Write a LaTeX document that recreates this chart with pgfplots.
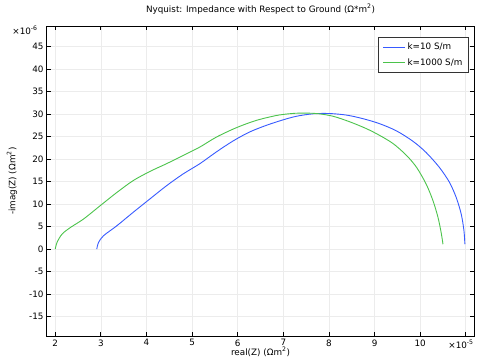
\documentclass[border=0pt]{standalone}
\usepackage{fontspec}
\setmainfont{DejaVu Sans}
\usepackage{pgfplots}
\pgfplotsset{compat=1.18}
\definecolor{cblue}{RGB}{55,90,255}
\definecolor{cgreen}{RGB}{75,195,75}
\begin{document}
\begin{tikzpicture}[x=1pt,y=1pt]
\path[use as bounding box] (0,0) rectangle (481,362);
\begin{axis}[
  at={(47pt,26pt)}, anchor=south west,
  scale only axis, width=427pt, height=309.5pt,
  xmin=1.82, xmax=11.18, ymin=-19.3, ymax=49.5,
  xtick={2,3,4,5,6,7,8,9,10,11},
  xticklabels={2,3,4,5,6,7,8,9,10,{}},
  ytick={-15,-10,...,45},
  /pgf/number format/assume math mode=true,
  tick label style={font=\fontsize{8.8}{10}\selectfont},
  tick align=inside, major tick length=4pt,
  tick style={black, line width=0.7pt},
  axis line style={black, line width=1pt},
  grid=major, grid style={gray!15, line width=0.6pt},
  title={Nyquist: Impedance with Respect to Ground (Ω*m\textsuperscript{2})},
  title style={at={(axis description cs:0.5,1.037)}, anchor=center, font=\fontsize{8.8}{10}\selectfont},
  xlabel={real(Z) (Ωm\textsuperscript{2})},
  xlabel style={at={(axis description cs:0.5,-0.052)}, anchor=center, font=\fontsize{8.8}{10}\selectfont},
  ylabel={-imag(Z) (Ωm\textsuperscript{2})},
  ylabel style={at={(axis description cs:-0.082,0.5)}, anchor=center, font=\fontsize{8.8}{10}\selectfont},
  legend style={at={(axis description cs:0.988,0.967)}, anchor=north east,
    draw=black!80, line width=1pt, font=\fontsize{8.8}{10}\selectfont,
    inner xsep=4pt, inner ysep=4pt, row sep=3pt},
  legend cell align=left,
  legend image code/.code={\draw[#1, line width=0.9pt] (0pt,0pt) -- (22pt,0pt);},
  clip=false,
]
\addplot[draw=cblue, line width=0.9pt, smooth] coordinates {
(2.91,0) (2.95,1.5) (3.06,3.0) (3.35,5.2) (3.71,8.2) (4.08,11.2) (4.44,14.1)
(4.80,16.7) (5.17,19.0) (5.53,21.6) (5.89,24.0) (6.25,26.0) (6.62,27.5) (6.98,28.7)
(7.29,29.55) (7.66,30.1) (8.02,30.15) (8.39,29.8) (8.75,29.0) (9.11,27.9) (9.48,26.3)
(9.84,24.0) (10.13,21.5) (10.42,18.2) (10.64,14.9) (10.79,11.5) (10.90,7.8)
(10.96,4.1) (10.98,1.1)};
\addlegendentry{k=10 S/m}
\addplot[draw=cgreen, line width=0.9pt, smooth] coordinates {
(2.0,0) (2.04,1.5) (2.15,3.35) (2.33,4.8) (2.62,6.7) (2.99,9.7) (3.35,12.6)
(3.71,15.25) (4.08,17.3) (4.44,19.0) (4.80,20.8) (5.17,22.7) (5.53,24.9) (5.97,27.0)
(6.40,28.6) (6.84,29.7) (7.13,30.1) (7.37,30.25) (7.73,30.15) (8.09,29.55) (8.46,28.3)
(8.82,26.8) (9.11,25.3) (9.41,23.45) (9.70,20.85) (9.92,18.2) (10.13,14.5)
(10.28,10.8) (10.39,7.1) (10.46,3.7) (10.5,1.1)};
\addlegendentry{k=1000 S/m}
\node[font=\fontsize{8.8}{10}\selectfont, anchor=center] at ([xshift=-22pt,yshift=-3.5pt]axis description cs:0,1) {×10\textsuperscript{-6}};
\node[font=\fontsize{8.8}{10}\selectfont, anchor=center] at ([xshift=-13pt,yshift=-8pt]axis description cs:1,0) {×10\textsuperscript{-5}};
\end{axis}
\end{tikzpicture}
\end{document}
